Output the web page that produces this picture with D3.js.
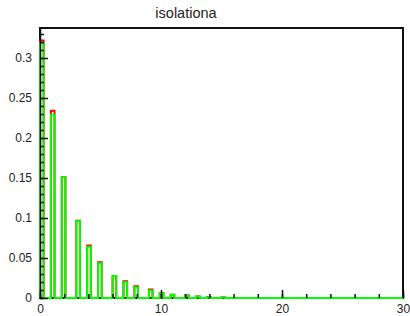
<!DOCTYPE html>
<html>
<head>
<meta charset="utf-8">
<script src="https://cdn.jsdelivr.net/npm/d3@7"></script>
<style>
  body { margin: 0; background: #fff; }
  text { font-family: 'Liberation Sans', Arial, sans-serif; fill: #222; }
</style>
</head>
<body>
<div class="chart"></div>
<script>
'use strict'
// DATA
const isolation = [0, 1, 2, 3, 4, 5, 6, 7, 8, 9, 10, 11, 12, 13, 14, 15]
const greenFrac = [0.318, 0.229, 0.151, 0.0966, 0.064, 0.0433, 0.0275, 0.0196, 0.0134, 0.0095, 0.006, 0.004, 0.003, 0.002, 0.001, 0.0008]
const redFrac = [0.322, 0.234, 0.151, 0.0966, 0.0655, 0.0448, 0.0275, 0.021, 0.0146, 0.0105, 0.006, 0.004, 0.003, 0.002, 0.001, 0.0008]
const xTickLabels = [0, 10, 20, 30]
const yTickLabels = [0, 0.05, 0.1, 0.15, 0.2, 0.25, 0.3]
const title = 'isolationa'

// histogram binning: 100 bins over [0, 30]
const nBins = 100
const xMin = 0
const xMax = 30
const binW = (xMax - xMin) / nBins

function toBins(values) {
  const bins = new Array(nBins).fill(0)
  isolation.forEach((k, i) => {
    const b = Math.floor((k - xMin) / binW + 1e-6)
    if (b >= 0 && b < nBins) bins[b] += values[i]
  })
  return bins
}

function stepPoints(bins) {
  const pts = [[xMin, 0]]
  bins.forEach((v, i) => {
    pts.push([xMin + i * binW, v])
    pts.push([xMin + (i + 1) * binW, v])
  })
  pts.push([xMax, 0])
  return pts
}

// CHART MARGINS
const margin = {top: 28, right: 7, bottom: 18, left: 40}
const width = 410 - margin.left - margin.right
const height = 316 - margin.top - margin.bottom

const xScale = d3.scaleLinear([xMin, xMax], [0, width])
const yScale = d3.scaleLinear([0, 0.3375], [height, 0])

const svg = d3.select('.chart')
  .append('svg')
  .attr('width', 410)
  .attr('height', 316)

svg.append('text')
  .attr('x', 186)
  .attr('y', 18)
  .attr('text-anchor', 'middle')
  .style('font-size', '14.5px')
  .text(title)

const g = svg.append('g')
  .attr('transform', `translate(${margin.left}, ${margin.top})`)

// FRAME
g.append('rect')
  .attr('width', width)
  .attr('height', height)
  .attr('fill', 'none')
  .attr('stroke', '#111')
  .attr('stroke-width', 2)

// HISTOGRAMS
const line = d3.line()
  .x(d => xScale(d[0]))
  .y(d => yScale(d[1]))

g.append('path')
  .attr('d', line(stepPoints(toBins(redFrac))))
  .attr('fill', 'none')
  .attr('stroke', '#ff0000')
  .attr('stroke-width', 2)

g.append('path')
  .attr('d', line(stepPoints(toBins(greenFrac))))
  .attr('fill', 'none')
  .attr('stroke', '#00ff00')
  .attr('stroke-width', 2)

// X AXIS
const xMajor = d3.axisBottom(xScale)
  .tickValues(xTickLabels)
  .tickFormat(d3.format('d'))
  .tickSizeInner(-8)
  .tickSizeOuter(0)
  .tickPadding(6)

const xMinor = d3.axisBottom(xScale)
  .tickValues(d3.range(xMin, xMax + 0.01, 2))
  .tickFormat('')
  .tickSizeInner(-4)
  .tickSizeOuter(0)

g.append('g')
  .attr('transform', `translate(0, ${height})`)
  .call(xMinor)
  .call(a => a.select('.domain').remove())

g.append('g')
  .attr('class', 'x axis')
  .attr('transform', `translate(0, ${height})`)
  .call(xMajor)
  .call(a => a.select('.domain').remove())
  .selectAll('text')
  .style('font-size', '12px')

// Y AXIS
const yMajor = d3.axisLeft(yScale)
  .tickValues(yTickLabels)
  .tickFormat(d => d === 0 ? '0' : String(d))
  .tickSizeInner(-8)
  .tickSizeOuter(0)
  .tickPadding(8)

const yMinor = d3.axisLeft(yScale)
  .tickValues(d3.range(0, 0.335, 0.01))
  .tickFormat('')
  .tickSizeInner(-4)
  .tickSizeOuter(0)

g.append('g')
  .call(yMinor)
  .call(a => a.select('.domain').remove())

g.append('g')
  .attr('class', 'y axis')
  .call(yMajor)
  .call(a => a.select('.domain').attr('stroke', '#111').attr('stroke-width', 1.5))
  .selectAll('text')
  .style('font-size', '12px')

g.selectAll('.tick line').attr('stroke', '#111').attr('stroke-width', 1.5)
</script>
</body>
</html>
